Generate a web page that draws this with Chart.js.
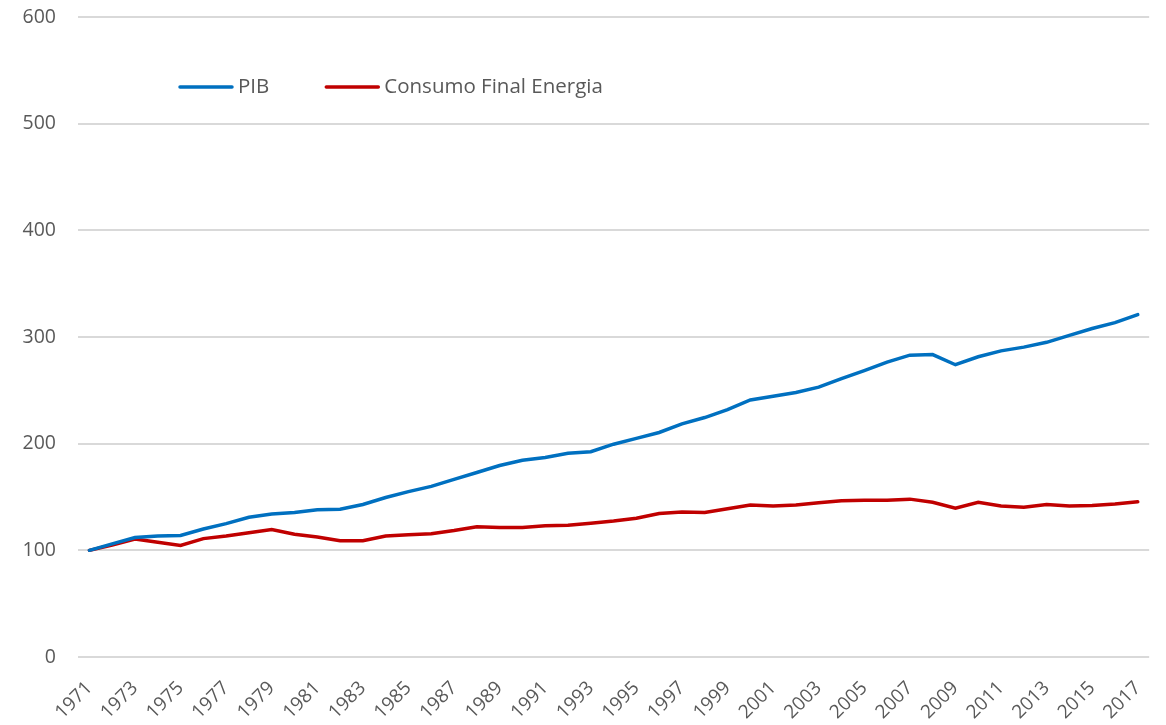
<!DOCTYPE html>
<html>
<head>
<meta charset="utf-8">
<script src="https://cdn.jsdelivr.net/npm/chart.js@4.4.0/dist/chart.umd.min.js"></script>
<style>
  html, body { margin: 0; padding: 0; background: #fff; }
  #wrap { width: 1166px; height: 725px; }
</style>
</head>
<body>
<div id="wrap"><canvas id="myChart"></canvas></div>
<script>
const years = []
for (let y = 1971; y <= 2017; y++) years.push(String(y))

const pib = [100, 106, 112, 113.5, 114, 120, 125, 131, 134, 135.5, 138, 138.5, 143, 149.5, 155, 160, 166.5,
  173, 179.5, 184.5, 187, 191, 192.5, 199.5, 205, 210.5, 218.5, 224.5, 232, 241, 244.5, 248, 253,
  261, 268.5, 276.5, 283, 283.5, 274, 281.5, 287, 290.5, 295, 301.5, 308, 313.5, 321]

const energia = [100, 105, 110.5, 107.5, 104.5, 111, 113.5, 116.5, 119.5, 115, 112.5, 109, 109, 113.5, 114.5, 115.5, 118.5,
  122, 121.5, 121.5, 123, 123.5, 125.5, 127.5, 130, 134.5, 136, 135.5, 139, 142.5, 141.5, 142.5, 144.5,
  146.5, 147, 147, 148, 145, 139.5, 145, 141.5, 140.5, 143, 141.5, 142, 143.5, 145.5]

const seriesNames = ['PIB', 'Consumo Final Energia']
const yTicks = [0, 100, 200, 300, 400, 500, 600]

const FONT = "'Open Sans', sans-serif"

// legend drawn inside the plot area, like the original
const insideLegend = {
  id: 'insideLegend',
  afterDraw(chart) {
    const ctx = chart.ctx
    const area = chart.chartArea
    const y = area.top + 70
    let x = area.left + 102
    ctx.save()
    ctx.font = '20.5px ' + FONT
    ctx.textBaseline = 'middle'
    chart.data.datasets.forEach(ds => {
      ctx.strokeStyle = ds.borderColor
      ctx.lineWidth = 3.5
      ctx.lineCap = 'round'
      ctx.beginPath()
      ctx.moveTo(x, y)
      ctx.lineTo(x + 52, y)
      ctx.stroke()
      ctx.fillStyle = '#595959'
      ctx.fillText(ds.label, x + 58, y)
      x += 58 + ctx.measureText(ds.label).width + 57
    })
    ctx.restore()
  }
}

const ctx = document.getElementById('myChart')
const myChart = new Chart(ctx, {
  type: 'line',
  data: {
    labels: years,
    datasets: [{
      label: seriesNames[0],
      data: pib,
      borderColor: '#0070C0',
      backgroundColor: '#0070C0',
      borderWidth: 3.5,
      pointRadius: 0,
      tension: 0,
      borderCapStyle: 'round'
    }, {
      label: seriesNames[1],
      data: energia,
      borderColor: '#C00000',
      backgroundColor: '#C00000',
      borderWidth: 3.5,
      pointRadius: 0,
      tension: 0,
      borderCapStyle: 'round'
    }]
  },
  options: {
    responsive: true,
    maintainAspectRatio: false,
    animation: false,
    layout: { padding: { top: 17, right: 11, left: 0, bottom: 0 } },
    plugins: {
      legend: { display: false },
      tooltip: { enabled: false }
    },
    scales: {
      x: {
        offset: true,
        grid: { display: false },
        border: { display: false },
        ticks: {
          color: '#595959',
          font: { family: FONT, size: 19 },
          maxRotation: 45,
          minRotation: 45,
          autoSkip: false,
          padding: 12,
          callback: function (val, i) { return i % 2 === 0 ? this.getLabelForValue(val) : '' }
        },
        afterFit: s => { s.height = 68 }
      },
      y: {
        min: 0,
        max: 600,
        afterBuildTicks: s => { s.ticks = yTicks.map(v => ({ value: v })) },
        grid: { color: '#D9D9D9', lineWidth: 2, drawTicks: false },
        border: { display: false },
        ticks: {
          color: '#595959',
          font: { family: FONT, size: 19.5 },
          padding: 22
        },
        afterFit: s => {
          s.width = 78
          s.paddingTop = 0
          s.paddingBottom = 0
        }
      }
    }
  },
  plugins: [insideLegend]
})
</script>
</body>
</html>
